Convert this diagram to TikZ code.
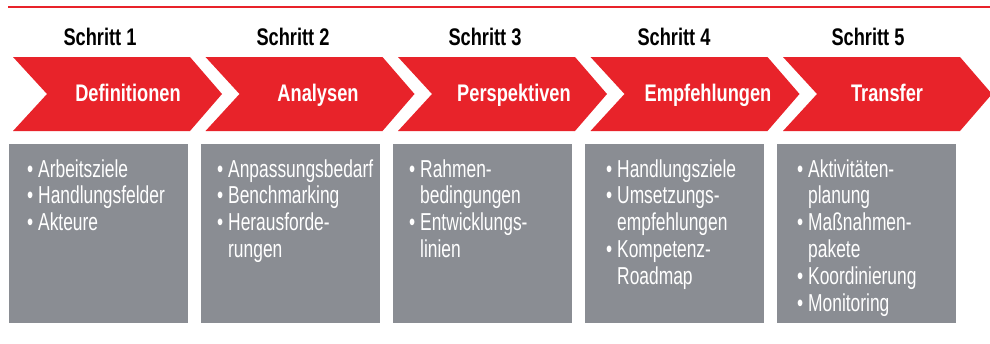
\documentclass[tikz,border=0pt]{standalone}
\usepackage{fontspec}
\setmainfont{Liberation Sans}
\newfontfamily\condreg{Liberation Sans}[FakeStretch=0.71]
\newfontfamily\condbold{Liberation Sans}[FakeStretch=0.76]
\definecolor{stepred}{HTML}{E8232A}
\definecolor{boxgray}{HTML}{8A8D93}
\newcommand{\itm}{\leavevmode\llap{\textbullet\hspace{5pt}}}
\newcommand{\boxlines}[1]{\parbox[t]{150pt}{\raggedright\condreg\fontsize{24.5}{26.8}\selectfont #1}}
\begin{document}
\begin{tikzpicture}[x=1pt,y=-1pt,
  steptitle/.style={inner sep=0pt,anchor=base,font={\condbold\bfseries\fontsize{24}{26}\selectfont},text=black},
  steplabel/.style={inner sep=0pt,anchor=base,font={\condbold\bfseries\fontsize{24}{26}\selectfont},text=white},
  graybox/.style={fill=boxgray,draw=none,minimum width=179pt,minimum height=179pt,inner sep=0pt,anchor=north west},
  boxtext/.style={inner sep=0pt,anchor=base west,text=white},
  chevron/.style={fill=stepred,draw=none}
]
\useasboundingbox (0,0) rectangle (990,343);
\draw[stepred,line width=1.6pt] (8,7) -- (990,7);
% chevrons
\foreach \i in {0,...,4}{
  \pgfmathsetmacro{\xa}{13+192.5*\i}
  \fill[chevron] (\xa,57) -- (\xa+177,57) -- (\xa+209,94) -- (\xa+177,131) -- (\xa,131) -- (\xa+34,94) -- cycle;
}
% titles
\node[steptitle] (t1) at (100,45) {Schritt 1};
\node[steptitle] (t2) at (293,45) {Schritt 2};
\node[steptitle] (t3) at (485,45) {Schritt 3};
\node[steptitle] (t4) at (674,45) {Schritt 4};
\node[steptitle] (t5) at (868,45) {Schritt 5};
% arrow labels
\node[steplabel] (l1) at (128,101) {Definitionen};
\node[steplabel] (l2) at (318,101) {Analysen};
\node[steplabel] (l3) at (514,101) {Perspektiven};
\node[steplabel] (l4) at (708,101) {Empfehlungen};
\node[steplabel] (l5) at (887,101) {Transfer};
% boxes
\node[graybox] (b1) at (9,144) {};
\node[graybox] (b2) at (201,144) {};
\node[graybox] (b3) at (393,144) {};
\node[graybox] (b4) at (585,144) {};
\node[graybox] (b5) at (777,144) {};
\node[boxtext] (x1) at (38,177) {\boxlines{\itm Arbeitsziele\\\itm Handlungsfelder\\\itm Akteure}};
\node[boxtext] (x2) at (228,177) {\boxlines{\itm Anpassungsbedarf\\\itm Benchmarking\\\itm Herausforde-\\rungen}};
\node[boxtext] (x3) at (420,177) {\boxlines{\itm Rahmen-\\bedingungen\\\itm Entwicklungs-\\linien}};
\node[boxtext] (x4) at (617,177) {\boxlines{\itm Handlungsziele\\\itm Umsetzungs-\\empfehlungen\\\itm Kompetenz-\\Roadmap}};
\node[boxtext] (x5) at (808,177) {\boxlines{\itm Aktivitäten-\\planung\\\itm Maßnahmen-\\pakete\\\itm Koordinierung\\\itm Monitoring}};
\end{tikzpicture}
\end{document}
